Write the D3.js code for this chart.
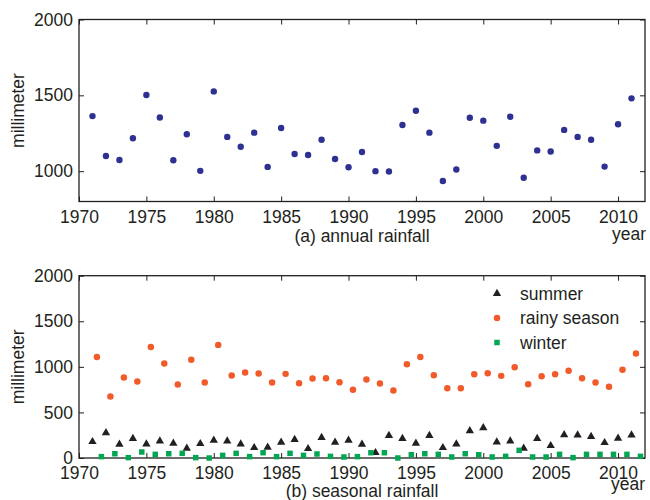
<!DOCTYPE html>
<html>
<head>
<meta charset="utf-8">
<script src="https://cdn.jsdelivr.net/npm/d3@7"></script>
<style>
  body { margin: 0; background: #fff; }
  text { font-family: "Liberation Sans", Arial, sans-serif; fill: #231f20; }
</style>
</head>
<body>
<script>
// rainfall data
var years = [1971, 1972, 1973, 1974, 1975, 1976, 1977, 1978, 1979, 1980,
  1981, 1982, 1983, 1984, 1985, 1986, 1987, 1988, 1989, 1990,
  1991, 1992, 1993, 1994, 1995, 1996, 1997, 1998, 1999, 2000,
  2001, 2002, 2003, 2004, 2005, 2006, 2007, 2008, 2009, 2010, 2011];

var annual = [1363, 1100, 1074, 1217, 1502, 1354, 1072, 1243, 1002, 1526,
  1226, 1161, 1254, 1028, 1285, 1113, 1107, 1207, 1080, 1026,
  1126, 1000, 998, 1304, 1398, 1254, 935, 1011, 1352, 1333,
  1167, 1359, 957, 1137, 1130, 1272, 1226, 1207, 1030, 1309, 1480];

var summer = [179, 277, 150, 212, 153, 186, 161, 106, 157, 193,
  186, 153, 113, 117, 172, 201, 102, 223, 172, 193,
  150, 58, 245, 212, 161, 245, 113, 153, 299, 332,
  175, 186, 106, 212, 135, 255, 252, 234, 168, 215, 252];

var rainy = [1109, 675, 883, 839, 1219, 1036, 807, 1077, 828, 1241,
  905, 938, 927, 828, 923, 821, 872, 876, 832, 748,
  861, 818, 741, 1029, 1109, 909, 766, 766, 920, 931,
  901, 996, 810, 898, 920, 956, 876, 828, 781, 967, 1146];

var winter = [15, 47, 4, 66, 40, 47, 51, 4, 0, 29,
  51, 15, 58, 15, 51, 29, 44, 18, 11, 15,
  58, 58, 0, 36, 47, 40, 11, 47, 36, 11,
  18, 84, 11, 11, 40, 4, 40, 40, 40, 40, 18];

var xTicks = [1970, 1975, 1980, 1985, 1990, 1995, 2000, 2005, 2010];
var annualTicks = [1000, 1500, 2000];
var seasonTicks = [0, 500, 1000, 1500, 2000];
var seasonNames = ['summer', 'rainy season', 'winter'];

var W = 650, H = 500;
var left = 79, right = 645;
var ink = '#231f20';
var fontSize = '17.5px';

var svg = d3.select('body').append('svg')
  .attr('width', W)
  .attr('height', H);

var x = d3.scaleLinear().domain([1970, 2012]).range([left, right]);

// draws a boxed panel with inward ticks on all four sides
var drawFrame = function(y, yTicks, top, bottom) {
  var g = svg.append('g');

  var bx = g.append('g').attr('transform', 'translate(0,' + bottom + ')')
    .call(d3.axisBottom(x).tickValues(xTicks).tickFormat(d3.format('d'))
      .tickSize(-5).tickPadding(9));
  var tx = g.append('g').attr('transform', 'translate(0,' + top + ')')
    .call(d3.axisTop(x).tickValues(xTicks).tickFormat('').tickSize(-5));
  var ly = g.append('g').attr('transform', 'translate(' + left + ',0)')
    .call(d3.axisLeft(y).tickValues(yTicks).tickFormat(d3.format('d'))
      .tickSize(-5).tickPadding(6));
  var ry = g.append('g').attr('transform', 'translate(' + right + ',0)')
    .call(d3.axisRight(y).tickValues(yTicks).tickFormat('').tickSize(-5));

  [bx, tx, ly, ry].forEach(function(a) {
    a.select('.domain').remove();
    a.selectAll('line').attr('stroke', ink).attr('stroke-width', 1);
    a.selectAll('text').attr('font-size', fontSize)
      .attr('font-family', '"Liberation Sans", Arial, sans-serif')
      .attr('fill', ink);
  });

  g.append('rect')
    .attr('x', left).attr('y', top)
    .attr('width', right - left).attr('height', bottom - top)
    .attr('fill', 'none')
    .attr('stroke', ink)
    .attr('stroke-width', 1.3);

  g.append('text')
    .attr('transform', 'translate(24,' + ((top + bottom) / 2) + ') rotate(-90)')
    .attr('text-anchor', 'middle')
    .attr('font-size', fontSize)
    .text('millimeter');

  return g;
};

// (a) annual rainfall
var topA = 19.5, bottomA = 201.5;
var yA = d3.scaleLinear().domain([800, 2000]).range([bottomA, topA]);
drawFrame(yA, annualTicks, topA, bottomA);

svg.append('g').selectAll('.annual')
  .data(years)
  .enter().append('circle')
  .attr('class', 'annual')
  .attr('cx', function(d) { return x(d); })
  .attr('cy', function(d, i) { return yA(annual[i]); })
  .attr('r', 3.2)
  .attr('fill', '#2e3192');

svg.append('text')
  .attr('x', (left + right) / 2).attr('y', 241.5)
  .attr('text-anchor', 'middle')
  .attr('font-size', fontSize)
  .text('(a) annual rainfall');

svg.append('text')
  .attr('x', 646).attr('y', 240)
  .attr('text-anchor', 'end')
  .attr('font-size', fontSize)
  .text('year');

// (b) seasonal rainfall
var topB = 275.7, bottomB = 458;
var yB = d3.scaleLinear().domain([0, 2000]).range([bottomB, topB]);
drawFrame(yB, seasonTicks, topB, bottomB);

var series = [
  { name: seasonNames[0], values: summer, shift: 0, shape: d3.symbolTriangle, size: 30, color: ink },
  { name: seasonNames[1], values: rainy, shift: 0.33, shape: d3.symbolCircle, size: 33, color: '#f15a29' },
  { name: seasonNames[2], values: winter, shift: 0.66, shape: d3.symbolSquare, size: 30, color: '#00a651' }
];

series.forEach(function(s) {
  var sym = d3.symbol().type(s.shape).size(s.size);
  svg.append('g').selectAll('path')
    .data(years)
    .enter().append('path')
    .attr('d', sym)
    .attr('transform', function(d, i) {
      return 'translate(' + x(d + s.shift) + ',' + yB(s.values[i]) + ')';
    })
    .attr('fill', s.color);
});

// legend
var legend = svg.append('g').selectAll('g')
  .data(series)
  .enter().append('g')
  .attr('transform', function(d, i) { return 'translate(497,' + (293.5 + i * 24.5) + ')'; });

legend.append('path')
  .attr('d', function(d) { return d3.symbol().type(d.shape).size(d.size)(); })
  .attr('fill', function(d) { return d.color; });

legend.append('text')
  .attr('x', 23).attr('dy', '0.35em')
  .attr('font-size', fontSize)
  .text(function(d) { return d.name; });

svg.append('text')
  .attr('x', (left + right) / 2).attr('y', 497)
  .attr('text-anchor', 'middle')
  .attr('font-size', fontSize)
  .text('(b) seasonal rainfall');

svg.append('text')
  .attr('x', 645).attr('y', 490)
  .attr('text-anchor', 'end')
  .attr('font-size', fontSize)
  .text('year');
</script>
</body>
</html>
